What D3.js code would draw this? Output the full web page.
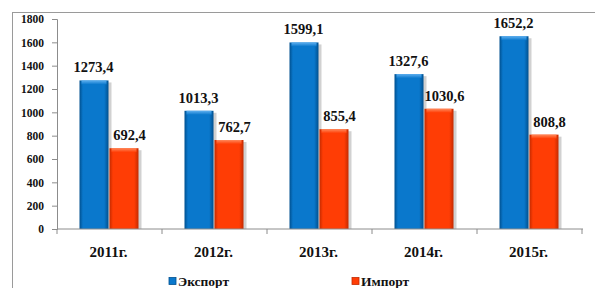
<!DOCTYPE html>
<html>
<head>
<meta charset="utf-8">
<script src="https://cdn.jsdelivr.net/npm/d3@7"></script>
<style>
body{margin:0;background:#fff;}
svg{display:block;}
svg text{font-family:"Liberation Serif","DejaVu Serif","Times New Roman",serif !important;font-weight:bold;}
</style>
</head>
<body>
<div id="chart"></div>
<script>
// data
const years = ['2011г.', '2012г.', '2013г.', '2014г.', '2015г.'];
const series = ['Экспорт', 'Импорт'];
const exportVals = [1273.4, 1013.3, 1599.1, 1327.6, 1652.2];
const importVals = [692.4, 762.7, 855.4, 1030.6, 808.8];
const yTicks = [0, 200, 400, 600, 800, 1000, 1200, 1400, 1600, 1800];

const colors = {
	'Экспорт': {mid:'#0a78cc', edge:'#00508f', top:'#5fb0f0'},
	'Импорт': {mid:'#ff3d05', edge:'#c42a00', top:'#ff8a5c'}
};

const rows = years.map((y, i) => ({year:y, values:[
	{key:'Экспорт', value:exportVals[i]},
	{key:'Импорт', value:importVals[i]}
]}));

const W = 595, H = 288;
const svg = d3.select('#chart').append('svg')
	.attr('width', W).attr('height', H);

// defs: gradients for the bevelled bars
const defs = svg.append('defs');
series.forEach((s, i) => {
	const g = defs.append('linearGradient').attr('id', 'g' + i)
		.attr('x1', 0).attr('x2', 1).attr('y1', 0).attr('y2', 0);
	g.append('stop').attr('offset', '0%').attr('stop-color', colors[s].edge);
	g.append('stop').attr('offset', '12%').attr('stop-color', colors[s].mid);
	g.append('stop').attr('offset', '85%').attr('stop-color', colors[s].mid);
	g.append('stop').attr('offset', '100%').attr('stop-color', colors[s].edge);
	const t = defs.append('linearGradient').attr('id', 't' + i)
		.attr('x1', 0).attr('x2', 0).attr('y1', 0).attr('y2', 1);
	t.append('stop').attr('offset', '0%').attr('stop-color', colors[s].top);
	t.append('stop').attr('offset', '100%').attr('stop-color', colors[s].mid);
});

// outer frame (runs off the right and bottom edges)
svg.append('rect')
	.attr('x', 12.5).attr('y', 12.5)
	.attr('width', W).attr('height', H)
	.attr('fill', 'none').attr('stroke', '#9a9a9a');

const x0 = d3.scaleBand().domain(years).range([57, 582]).paddingInner(0).paddingOuter(0);
const x1 = d3.scaleBand().domain(series).range([0, x0.bandwidth()]).paddingInner(0).paddingOuter(0.75);
const y = d3.scaleLinear().domain([0, 1800]).range([229, 19]);

// y axis
const yAxis = svg.append('g').attr('transform', 'translate(57,0)')
	.call(d3.axisLeft(y).tickValues(yTicks).tickSize(5).tickPadding(8).tickFormat(d3.format('d')));
yAxis.select('.domain').attr('stroke', '#8c8c8c');
yAxis.selectAll('.tick line').attr('stroke', '#8c8c8c');
yAxis.selectAll('text').attr('font-size', '11.5px').attr('fill', '#111');

// bars
const groups = svg.selectAll('.yr').data(rows).join('g')
	.attr('class', 'yr')
	.attr('transform', d => `translate(${x0(d.year)},0)`);

const bar = groups.selectAll('.bar').data(d => d.values).join('g').attr('class', 'bar');

// shadow
bar.append('rect')
	.attr('x', d => x1(d.key) + 2)
	.attr('y', d => y(d.value) + 2)
	.attr('width', x1.bandwidth())
	.attr('height', d => y(0) - y(d.value) - 2)
	.attr('fill', '#000').attr('opacity', 0.18);

bar.append('rect')
	.attr('x', d => x1(d.key))
	.attr('y', d => y(d.value))
	.attr('width', x1.bandwidth() - 1)
	.attr('height', d => y(0) - y(d.value))
	.attr('fill', d => `url(#g${series.indexOf(d.key)})`);

// top bevel
bar.append('rect')
	.attr('x', d => x1(d.key) + 2)
	.attr('y', d => y(d.value))
	.attr('width', x1.bandwidth() - 5)
	.attr('height', 4)
	.attr('fill', d => `url(#t${series.indexOf(d.key)})`);

// value labels
bar.append('text')
	.attr('x', d => x1(d.key) + x1.bandwidth() / 2 + (d.key === 'Импорт' ? 5 : -1))
	.attr('y', d => y(d.value) - 8)
	.attr('text-anchor', 'middle')
	.attr('font-size', '14.5px')
	.attr('fill', '#111')
	.text(d => d3.format('.1f')(d.value).replace('.', ','));

// x axis
const xAxis = svg.append('g').attr('transform', 'translate(0,229)');
xAxis.append('line').attr('x1', 57).attr('x2', 583).attr('stroke', '#8c8c8c');
xAxis.selectAll('.xt').data(years.concat(['end'])).join('line')
	.attr('x1', (d, i) => i < years.length ? x0(d) : x0.range()[1])
	.attr('x2', (d, i) => i < years.length ? x0(d) : x0.range()[1])
	.attr('y1', 0).attr('y2', 5)
	.attr('stroke', '#8c8c8c');
xAxis.selectAll('.xl').data(years).join('text')
	.attr('x', d => x0(d) + x0.bandwidth() / 2 - 1)
	.attr('y', 28)
	.attr('text-anchor', 'middle')
	.attr('font-size', '15px')
	.attr('fill', '#111')
	.text(d => d);

// legend
const legX = [169, 352];
const leg = svg.selectAll('.leg').data(series).join('g')
	.attr('class', 'leg')
	.attr('transform', (d, i) => `translate(${legX[i]},281)`);
leg.append('rect').attr('x', 0).attr('y', -3.5).attr('width', 7).attr('height', 7)
	.attr('fill', d => colors[d].mid).attr('stroke', d => colors[d].edge).attr('stroke-width', 0.8);
leg.append('text').attr('x', 9).attr('y', 5)
	.attr('font-size', '13.5px').attr('fill', '#111')
	.text(d => d);
</script>
</body>
</html>
